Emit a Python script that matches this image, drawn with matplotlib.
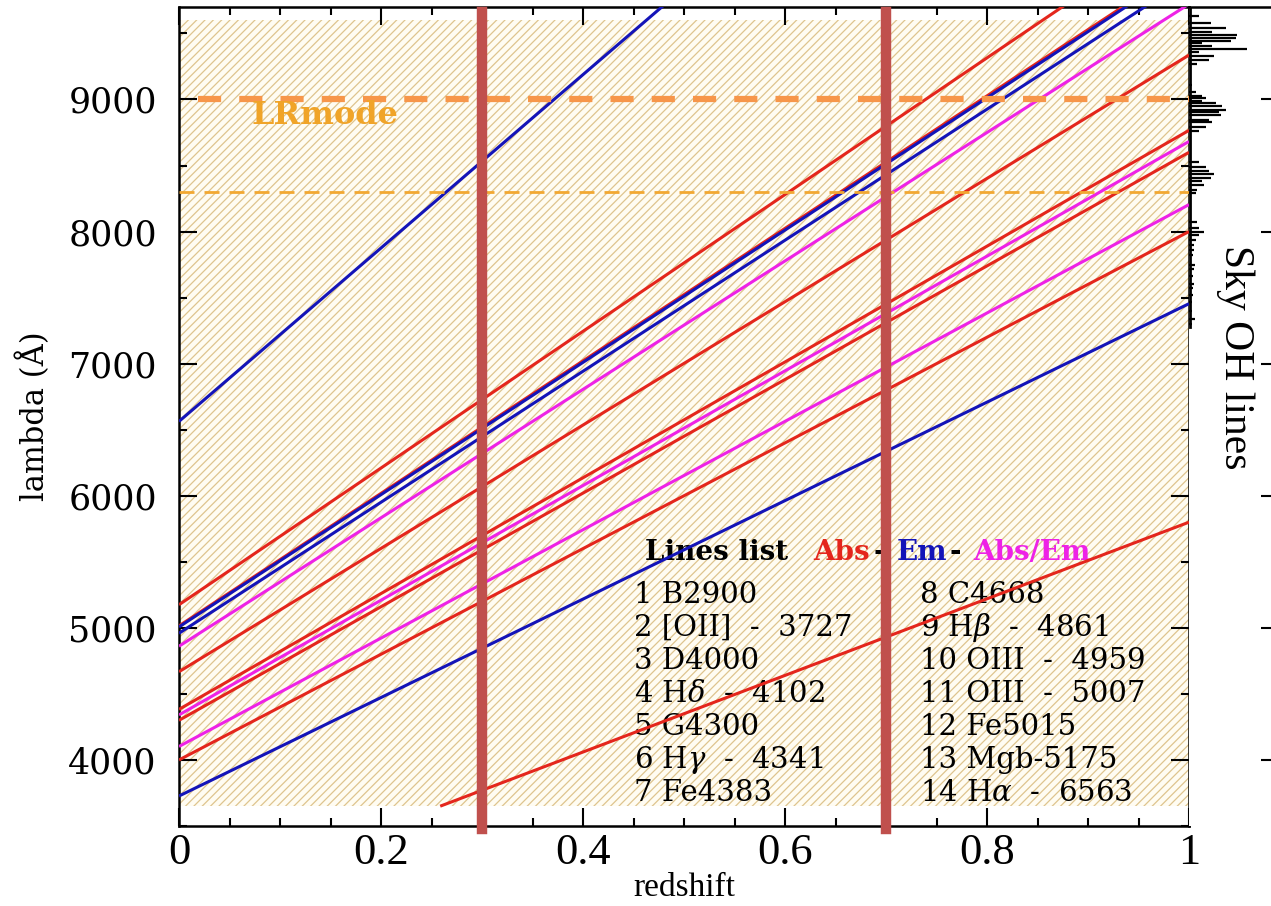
import numpy as np
import matplotlib.pyplot as plt
from matplotlib.ticker import MultipleLocator, FuncFormatter

plt.rcParams['mathtext.fontset'] = 'dejavuserif'
plt.rcParams['hatch.linewidth'] = 0.9

# spectral features: rest wavelength (A) and kind
line_labels = ['B2900', '[OII]  -  3727', 'D4000', r'H$\delta$  -  4102', 'G4300',
               r'H$\gamma$  -  4341', 'Fe4383', 'C4668', r'H$\beta$  -  4861',
               'OIII  -  4959', 'OIII  -  5007', 'Fe5015', 'Mgb-5175',
               r'H$\alpha$  -  6563']
line_wave = [2900, 3727, 4000, 4102, 4300, 4341, 4383, 4668, 4861, 4959, 5007, 5015, 5175, 6563]
line_kind = ['Abs', 'Em', 'Abs', 'Abs/Em', 'Abs', 'Abs/Em', 'Abs', 'Abs',
             'Abs/Em', 'Em', 'Em', 'Abs', 'Abs', 'Em']
kind_color = {'Abs': '#E4261C', 'Em': '#1414B8', 'Abs/Em': '#EE22E6'}

redshift_range = [0.0, 1.0]
redshift_cuts = [0.3, 0.7]
coverage = [3650, 9600]        # hatched wavelength coverage
lr_mode_top = 9000
lr_mode_low = 8300

# sky OH emission lines (wavelength, relative strength)
sky_wave = [9629, 9576, 9538, 9508, 9485, 9462, 9439, 9424, 9402, 9379, 9356, 9326,
            9295, 9265, 9106, 9053, 9023, 9008, 8985, 8970, 8947, 8924, 8902, 8879,
            8848, 8826, 8795, 8758, 8530, 8485, 8462, 8432, 8409, 8379, 8356, 8318,
            8295, 8076, 8030, 7999, 7977, 7939, 7902, 7860, 7820, 7750, 7715, 7660,
            7600, 7570, 7520, 7470, 7400, 7340, 7300]
sky_flux = [10, 22, 37, 23, 48, 47, 42, 13, 23, 58, 10, 25,
            20, 8, 3, 7, 13, 17, 13, 27, 33, 37, 30, 32,
            20, 23, 17, 10, 10, 17, 20, 25, 22, 13, 15, 8,
            7, 8, 10, 15, 10, 7, 5, 5, 4, 6, 5, 4,
            5, 4, 4, 3, 3, 6, 3]

W, H = 1271, 906
fig = plt.figure(figsize=(W / 100, H / 100), dpi=100)
ax = fig.add_axes([179 / W, 80 / H, 1010 / W, 819 / H])

ax.set_xlim(*redshift_range)
ax.set_ylim(3500, 9700)

# hatched coverage band
ax.axhspan(coverage[0], coverage[1], facecolor='#FFFCF2', edgecolor='#DEC48E',
           hatch='////', linewidth=0, zorder=0)

# redshifted lines
for lam, kind in zip(line_wave, line_kind):
    z0 = max(redshift_range[0], coverage[0] / lam - 1)
    z = np.array([z0, redshift_range[1]])
    zo = 3.2 if kind == 'Em' else 3
    ax.plot(z, lam * (1 + z), color=kind_color[kind], lw=2.2, zorder=zo,
            solid_capstyle='butt')

# LR mode limits
ax.plot([0.019, 1.0], [lr_mode_top] * 2, color='#F7964A', lw=4.5,
        dashes=(3.7, 2.9), zorder=4)
ax.plot(redshift_range, [lr_mode_low] * 2, color='#F2A832', lw=2.0,
        dashes=(5.4, 3.6), zorder=4)
ax.text(0.072, 8880, 'LRmode', color='#F0A428', fontsize=23, fontweight='bold',
        family='DejaVu Serif', va='center', ha='left', zorder=4)

# redshift cuts
for zc in redshift_cuts:
    ax.axvline(zc, ymin=-0.004, ymax=0.994, color='#C0504D', lw=7.5,
               zorder=6, clip_on=False)

# line list
txt_kw = dict(family='DejaVu Serif', fontsize=21, va='center', ha='left', zorder=2)
for i, lab in enumerate(line_labels):
    col, row = divmod(i, 7)
    x = 0.4505 if col == 0 else 0.734
    ax.text(x, 5250 - 250 * row, f'{i + 1} {lab}', **txt_kw)

head_text = ['Lines list', 'Abs', '-', 'Em', '-', 'Abs/Em']
head_color = ['black', kind_color['Abs'], 'black', kind_color['Em'], 'black',
              kind_color['Abs/Em']]
head_x = [0.4614, 0.628, 0.688, 0.711, 0.763, 0.786]
for s, c, x in zip(head_text, head_color, head_x):
    ax.text(x, 5570, s, color=c, family='DejaVu Serif', fontsize=20,
            fontweight='bold', va='center', ha='left', zorder=2)

# axes styling
ax.xaxis.set_major_locator(MultipleLocator(0.2))
ax.xaxis.set_minor_locator(MultipleLocator(0.05))
ax.yaxis.set_major_locator(MultipleLocator(1000))
ax.yaxis.set_minor_locator(MultipleLocator(500))
ax.xaxis.set_major_formatter(FuncFormatter(lambda v, p: f'{v:g}'))
ax.tick_params(which='both', direction='in', top=True, right=True, width=1.5)
ax.tick_params(which='major', length=13)
ax.tick_params(which='minor', length=6)
ax.tick_params(axis='x', which='major', pad=5)
ax.tick_params(axis='y', which='major', pad=16)
for t in ax.get_xticklabels():
    t.set_family('Liberation Serif')
    t.set_fontsize(32)
for t in ax.get_yticklabels():
    t.set_family('DejaVu Serif')
    t.set_fontsize(25)
for sp in ax.spines.values():
    sp.set_linewidth(1.8)
ax.set_xlabel('redshift', family='Liberation Serif', fontsize=24, labelpad=0)
ax.set_ylabel('lambda (Å)', family='DejaVu Serif', fontsize=22, labelpad=12)

# sky OH panel
ax2 = fig.add_axes([1189 / W, 80 / H, 90 / W, 819 / H], sharey=ax)
ax2.hlines(sky_wave, 0, sky_flux, color='black', lw=1.6)
ax2.plot([1, 1], [7280, 9700], color='black', lw=2)
ax2.set_xlim(0, 90)
ax2.set_xticks([])
ax2.spines['bottom'].set_visible(False)
ax2.spines['left'].set_visible(False)
ax2.spines['top'].set_linewidth(1.8)
ax2.tick_params(axis='y', which='both', direction='in', left=False, right=True,
                labelleft=False, width=1.5)
ax2.tick_params(axis='y', which='major', length=13)
ax2.tick_params(axis='y', which='minor', length=6)
fig.text(1235 / W, 1 - 357 / H, 'Sky OH lines', rotation=-90, family='Liberation Serif',
         fontsize=30, ha='center', va='center')

fig.savefig('out.png', dpi=100)
